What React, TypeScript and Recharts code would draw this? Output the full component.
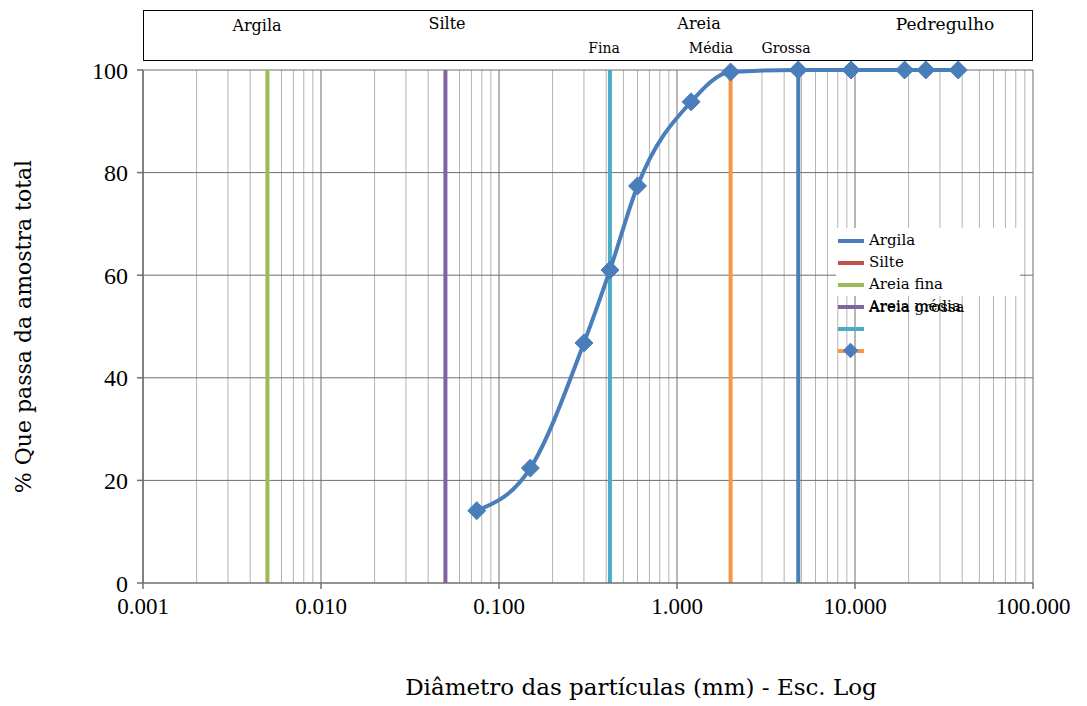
import React from "react";
import { ComposedChart, Line, XAxis, YAxis, ReferenceLine } from "recharts";

// curva granulométrica
const diametros = [0.075, 0.15, 0.3, 0.42, 0.6, 1.2, 2.0, 4.8, 9.5, 19, 25, 38];
const passante = [14.1, 22.4, 46.8, 61.0, 77.4, 93.8, 99.6, 100, 100, 100, 100, 100];

// limites entre frações (linhas verticais)
const limiteNomes = ["Areia fina", "Areia média", "Fina", "Média", "Argila"];
const limiteDiametros = [0.005, 0.05, 0.42, 2.0, 4.8];

const xTicks = [0.001, 0.01, 0.1, 1, 10, 100];
const yTicks = [0, 20, 40, 60, 80, 100];

const legendNomes = ["Argila", "Silte", "Areia fina", "Areia média", "", ""];

const corLimite = ["#9bbb59", "#8064a2", "#4bacc6", "#f79646", "#4a7ebb"];
const corLegenda = ["#4a7ebb", "#c0504d", "#9bbb59", "#8064a2", "#4bacc6", "#f79646"];
const AZUL = "#4a7ebb";
const FONT = "'DejaVu Serif', serif";
const FONT_NUM = "'Liberation Serif', serif";

const curva = diametros.map((d, i) => ({ x: d, y: passante[i] }));

const minorGrid: number[] = [];
for (let e = -3; e < 2; e++) {
  for (let m = 2; m <= 9; m++) minorGrid.push(m * Math.pow(10, e));
}

const Diamond = (props: any) => {
  const { cx, cy } = props;
  if (cx == null || cy == null) return null;
  const r = 9;
  return (
    <path
      d={`M${cx},${cy - r}L${cx + r},${cy}L${cx},${cy + r}L${cx - r},${cy}Z`}
      fill={AZUL}
      stroke={AZUL}
    />
  );
};

const LegendBox = () => (
  <div
    style={{
      position: "absolute",
      left: 836,
      top: 228,
      width: 184,
      height: 135,
      fontFamily: FONT,
      fontSize: 15,
      color: "#000",
    }}
  >
    <div style={{ position: "absolute", left: 0, top: 0, width: 184, height: 68, background: "#fff" }} />
    {legendNomes.map((n, i) => (
      <div key={i} style={{ position: "absolute", left: 0, top: 3 + i * 22, height: 22, width: 184 }}>
        <div
          style={{ position: "absolute", left: 2, top: 8, width: 26, height: 4, background: corLegenda[i] }}
        />
        {i === 5 && (
          <div
            style={{
              position: "absolute",
              left: 9,
              top: 4,
              width: 11,
              height: 11,
              background: AZUL,
              transform: "rotate(45deg)",
            }}
          />
        )}
        <span style={{ position: "absolute", left: 33, top: 0, whiteSpace: "nowrap" }}>{n}</span>
        {i === 3 && (
          <span style={{ position: "absolute", left: 33, top: 1, whiteSpace: "nowrap" }}>Areia grossa</span>
        )}
      </div>
    ))}
  </div>
);

const headerLabel = (text: string, left: number, top: number, size: number) => (
  <div
    style={{
      position: "absolute",
      left,
      top,
      fontFamily: FONT,
      fontSize: size,
      transform: "translateX(-50%)",
      whiteSpace: "nowrap",
    }}
  >
    {text}
  </div>
);

export default function App() {
  return (
    <div style={{ position: "absolute", left: 0, top: 0, width: 1087, height: 706, background: "#fff" }}>
      <div
        style={{
          position: "absolute",
          left: 143,
          top: 10,
          width: 890,
          height: 51,
          border: "1.5px solid #000",
          boxSizing: "border-box",
        }}
      />
      {headerLabel("Argila", 257, 16, 16)}
      {headerLabel("Silte", 447, 14, 16)}
      {headerLabel("Areia", 699, 14, 16)}
      {headerLabel("Pedregulho", 945, 14, 17)}
      {headerLabel("Fina", 604, 40, 14)}
      {headerLabel("Média", 711, 40, 14)}
      {headerLabel("Grossa", 786, 40, 14)}

      <ComposedChart
        width={1087}
        height={706}
        margin={{ top: 70, right: 54, bottom: 53, left: 80 }}
        style={{ position: "absolute", left: 0, top: 0, fontFamily: FONT }}
      >
        {minorGrid.map((v) => (
          <ReferenceLine key={v} x={v} stroke="#b4b4b4" strokeWidth={1} />
        ))}
        {xTicks.map((v) => (
          <ReferenceLine key={"M" + v} x={v} stroke="#6f6f6f" strokeWidth={1} />
        ))}
        {yTicks.slice(1).map((v) => (
          <ReferenceLine key={"H" + v} y={v} stroke="#6f6f6f" strokeWidth={1} />
        ))}
        <XAxis
          type="number"
          dataKey="x"
          scale="log"
          domain={[0.001, 100]}
          ticks={xTicks}
          allowDataOverflow
          tickFormatter={(v: number) => v.toFixed(3)}
          tick={{ fill: "#000", fontSize: 23, fontFamily: FONT_NUM }}
          tickSize={6}
          tickMargin={9}
          stroke="#6f6f6f"
          strokeWidth={1.5}
          height={70}
          label={{
            value: "Diâmetro das partículas (mm) - Esc. Log",
            position: "insideBottom",
            offset: -42,
            fill: "#000",
            fontSize: 23,
            dx: 53,
          }}
        />
        <YAxis
          type="number"
          domain={[0, 100]}
          ticks={yTicks}
          tick={{ fill: "#000", fontSize: 24, fontFamily: FONT_NUM }}
          tickSize={6}
          tickMargin={9}
          stroke="#6f6f6f"
          strokeWidth={1.5}
          width={63}
          label={{
            value: "% Que passa da amostra total",
            angle: -90,
            position: "insideLeft",
            offset: -57,
            fill: "#000",
            fontSize: 22,
            style: { textAnchor: "middle" },
          }}
        />
        {limiteDiametros.map((d, i) => (
          <Line
            key={limiteNomes[i]}
            data={[
              { x: d, y: 0 },
              { x: d, y: 100 },
            ]}
            dataKey="y"
            stroke={corLimite[i]}
            strokeWidth={4}
            dot={false}
            isAnimationActive={false}
            legendType="none"
          />
        ))}
        <Line
          data={curva}
          dataKey="y"
          type="monotone"
          stroke={AZUL}
          strokeWidth={4}
          dot={<Diamond />}
          isAnimationActive={false}
        />
      </ComposedChart>
      <LegendBox />
    </div>
  );
}
